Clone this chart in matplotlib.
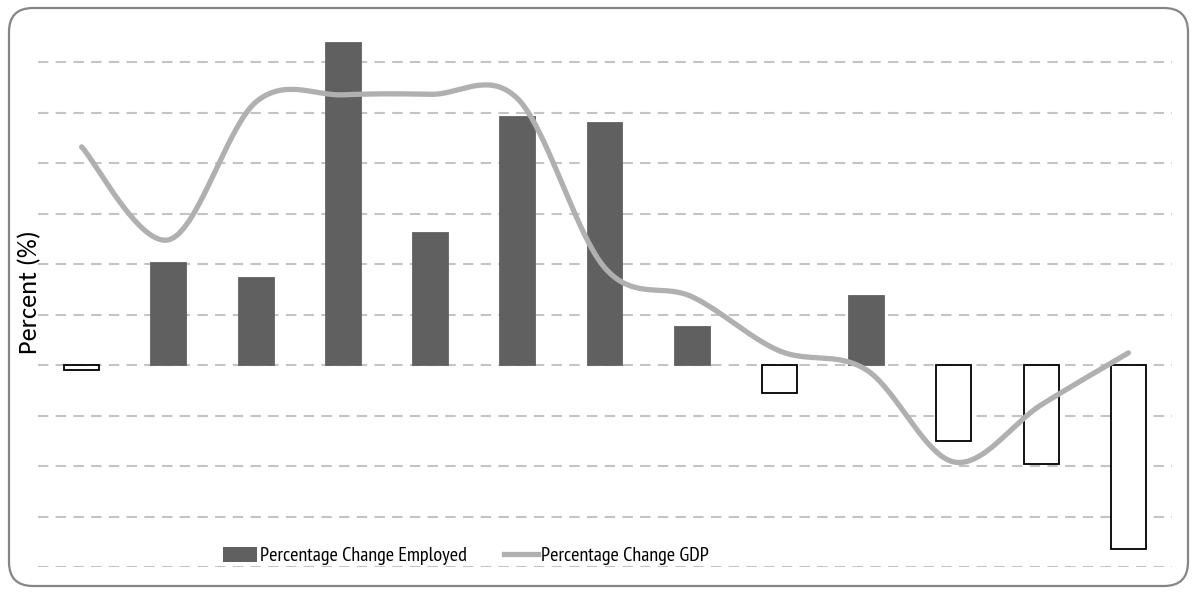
import numpy as np
import matplotlib
matplotlib.use("Agg")
import matplotlib.pyplot as plt
from matplotlib.patches import Patch, FancyBboxPatch
from matplotlib.lines import Line2D

plt.rcParams['font.family'] = ['Carlito', 'DejaVu Sans']

categories = list(range(13))
employed = [-0.1, 2.02, 1.72, 6.38, 2.61, 4.91, 4.79, 0.75, -0.55, 1.37, -1.5, -1.96, -3.64]
gdp = [4.32, 2.48, 5.21, 5.35, 5.36, 5.27, 1.92, 1.35, 0.28, -0.1, -1.92, -0.79, 0.24]
grid_levels = [-4, -3, -2, -1, 0, 1, 2, 3, 4, 5, 6]

W, H = 1197, 594
fig = plt.figure(figsize=(W / 100, H / 100), dpi=100)

# rounded border (pixel coordinates)
border = FancyBboxPatch((9, H - 586), 1179, 578,
                        boxstyle="round,pad=0,rounding_size=24",
                        transform=None, facecolor='none',
                        edgecolor='#858585', linewidth=1.6, zorder=-1)
fig.patches.append(border)

y_top = 6.8
ax = fig.add_axes([38 / W, 1 - 567 / H, (1172 - 38) / W, (567 - (365 - y_top * 50.5)) / H])
ax.set_facecolor('none')
ax.set_xlim(-0.5, 12.5)
ax.set_ylim(-4, y_top)

for g in grid_levels:
    ax.axhline(g, color='#c4c4c4', lw=1.5, ls=(0, (5, 3.5)), zorder=1)

x = np.array(categories, dtype=float)
vals = np.array(employed)
fc = ['#606060' if v >= 0 else 'white' for v in vals]
ec = ['#606060' if v >= 0 else 'black' for v in vals]
ax.bar(x, vals, width=0.4, color=fc, edgecolor=ec, linewidth=1.3, zorder=2)

# smoothed line (cubic Bezier / Catmull-Rom through the data points)
y = np.array(gdp)
px = np.concatenate([[x[0]], x, [x[-1]]])
py = np.concatenate([[y[0]], y, [y[-1]]])
xs, ys = [], []
t = np.linspace(0, 1, 40)
for i in range(1, len(px) - 2):
    p0 = np.array([px[i], py[i]])
    p3 = np.array([px[i + 1], py[i + 1]])
    p1 = p0 + (np.array([px[i + 1], py[i + 1]]) - np.array([px[i - 1], py[i - 1]])) / 6
    p2 = p3 - (np.array([px[i + 2], py[i + 2]]) - np.array([px[i], py[i]])) / 6
    b = ((1 - t) ** 3)[:, None] * p0 + (3 * (1 - t) ** 2 * t)[:, None] * p1 + \
        (3 * (1 - t) * t ** 2)[:, None] * p2 + (t ** 3)[:, None] * p3
    xs.extend(b[:, 0]); ys.extend(b[:, 1])
ax.plot(xs, ys, color='#b0b0b0', lw=3.8, solid_capstyle='round', zorder=3)

ax.set_xticks([]); ax.set_yticks([])
for s in ax.spines.values():
    s.set_visible(False)

fig.text(30 / W, 1 - 292 / H, 'Percent (%)', rotation=90, ha='center', va='center',
         fontsize=19, color='black')

handles = [Patch(facecolor='#606060', edgecolor='none'),
           Line2D([0], [0], color='#b0b0b0', lw=3.8)]
leg = fig.legend(handles, ['Percentage Change Employed', 'Percentage Change GDP'],
                 loc='center', bbox_to_anchor=(466 / W, 1 - 556 / H), ncol=2,
                 frameon=False, handlelength=1.7, handleheight=0.75,
                 handletextpad=0.15, columnspacing=1.8, borderpad=0,
                 prop={'family': ['PT Sans Narrow', 'DejaVu Sans'], 'size': 14.5})

fig.savefig('out.png', dpi=100)
